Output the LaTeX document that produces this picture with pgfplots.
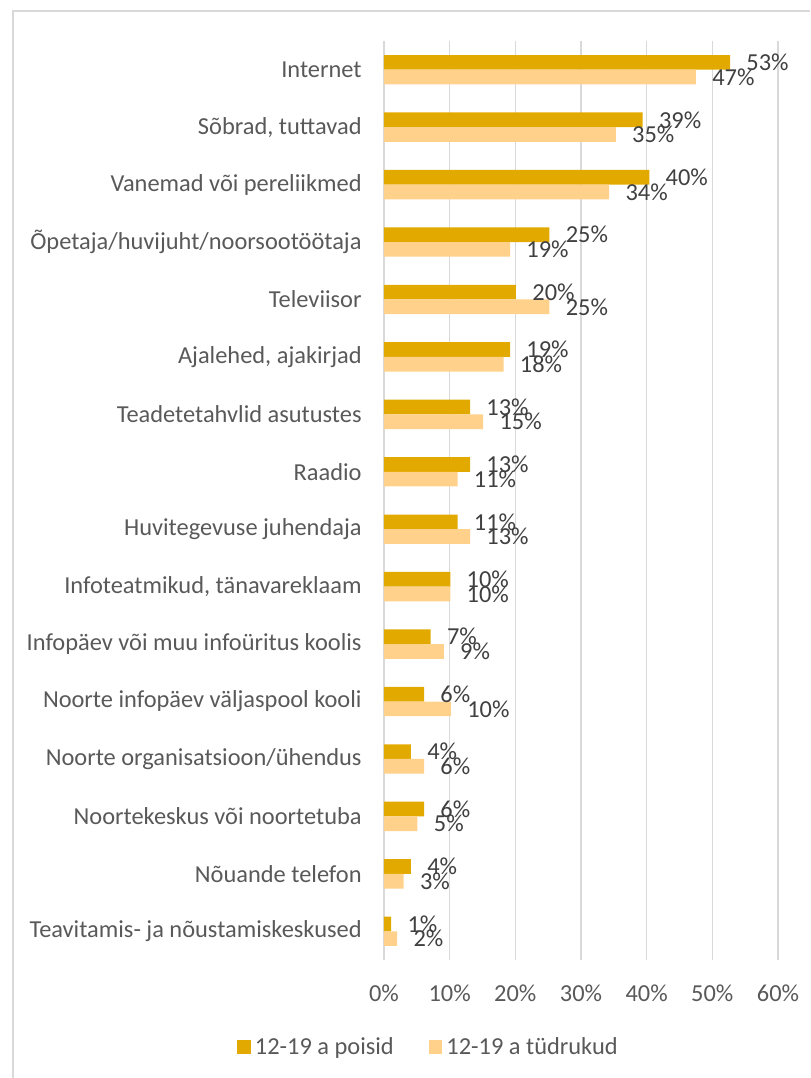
\documentclass[border=0pt]{standalone}
\usepackage{pgfplots}
\pgfplotsset{compat=1.18}
\usepackage{pgfplotstable}
\usepackage{fontspec}
\setmainfont{Carlito}
\definecolor{boys}{HTML}{E2AA00}
\definecolor{girls}{HTML}{FFD18A}
\definecolor{gridc}{HTML}{D9D9D9}
\definecolor{txt}{HTML}{595959}
\definecolor{lbl}{HTML}{404040}

\pgfplotstableread{
i b g bl gl
0 52.7 47.5 53 47
1 39.4 35.3 39 35
2 40.4 34.3 40 34
3 25.2 19.2 25 19
4 20.1 25.2 20 25
5 19.2 18.2 19 18
6 13.1 15.1 13 15
7 13.1 11.2 13 11
8 11.2 13.1 11 13
9 10.1 10.1 10 10
10 7.1 9.1 7 9
11 6.1 10.2 6 10
12 4.1 6.1 4 6
13 6.1 5.1 6 5
14 4.1 3.0 4 3
15 1.1 2.0 1 2
}\data

\newcommand{\fs}{\fontsize{12.2}{14.5}\selectfont}

\begin{document}
\begin{tikzpicture}
\useasboundingbox (0,0) rectangle (405pt,539pt);
\draw[gridc, line width=0.75pt] (6.5pt,0pt) -- (6.5pt,533.5pt) -- (405pt,533.5pt);
\begin{axis}[
  at={(192pt,59pt)}, anchor=south west,
  scale only axis, width=197pt, height=459.5pt,
  xbar, bar width=7.35pt,
  xmin=0, xmax=60, ymin=-0.5, ymax=15.5, y dir=reverse,
  axis line style={draw=none},
  xmajorgrids, grid style={gridc, line width=0.75pt},
  major tick length=0pt,
  xtick={0,10,...,60},
  xticklabel={\pgfmathprintnumber{\tick}\%},
  /pgf/number format/assume math mode=true,
  xticklabel style={font=\fs, text=txt, anchor=center, yshift=-16.5pt},
  ytick={0,...,15},
  yticklabels={Internet, {Sõbrad, tuttavad}, Vanemad või pereliikmed, Õpetaja/huvijuht/noorsootöötaja, Televiisor, {Ajalehed, ajakirjad}, Teadetetahvlid asutustes, Raadio, Huvitegevuse juhendaja, {Infoteatmikud, tänavareklaam}, Infopäev või muu infoüritus koolis, Noorte infopäev väljaspool kooli, Noorte organisatsioon/ühendus, Noortekeskus või noortetuba, Nõuande telefon, Teavitamis- ja nõustamiskeskused},
  yticklabel style={font=\fs, text=txt, anchor=east, inner sep=0pt, xshift=-11pt},
  point meta=explicit,
  nodes near coords={\pgfmathprintnumber{\pgfplotspointmeta}\%},
  every node near coord/.append style={font=\fs, text=lbl, anchor=west, inner sep=0pt, xshift=8pt},
  legend style={at={(0.1155,-0.0947)}, anchor=center, draw=none, fill=none,
    legend columns=2, font=\fs, text=txt,
    /tikz/every even column/.append style={column sep=15.5pt}},
  legend image code/.code={\fill[#1] (0pt,-3.4pt) rectangle (6.8pt,3.4pt);},
]
\addplot[fill=boys, draw=none, bar shift=3.675pt] table[x=b, y=i, meta=bl] {\data};
\addlegendentry{12-19 a poisid}
\addplot[fill=girls, draw=none, bar shift=-3.675pt] table[x=g, y=i, meta=gl] {\data};
\addlegendentry{12-19 a tüdrukud}
\end{axis}
\end{tikzpicture}
\end{document}
